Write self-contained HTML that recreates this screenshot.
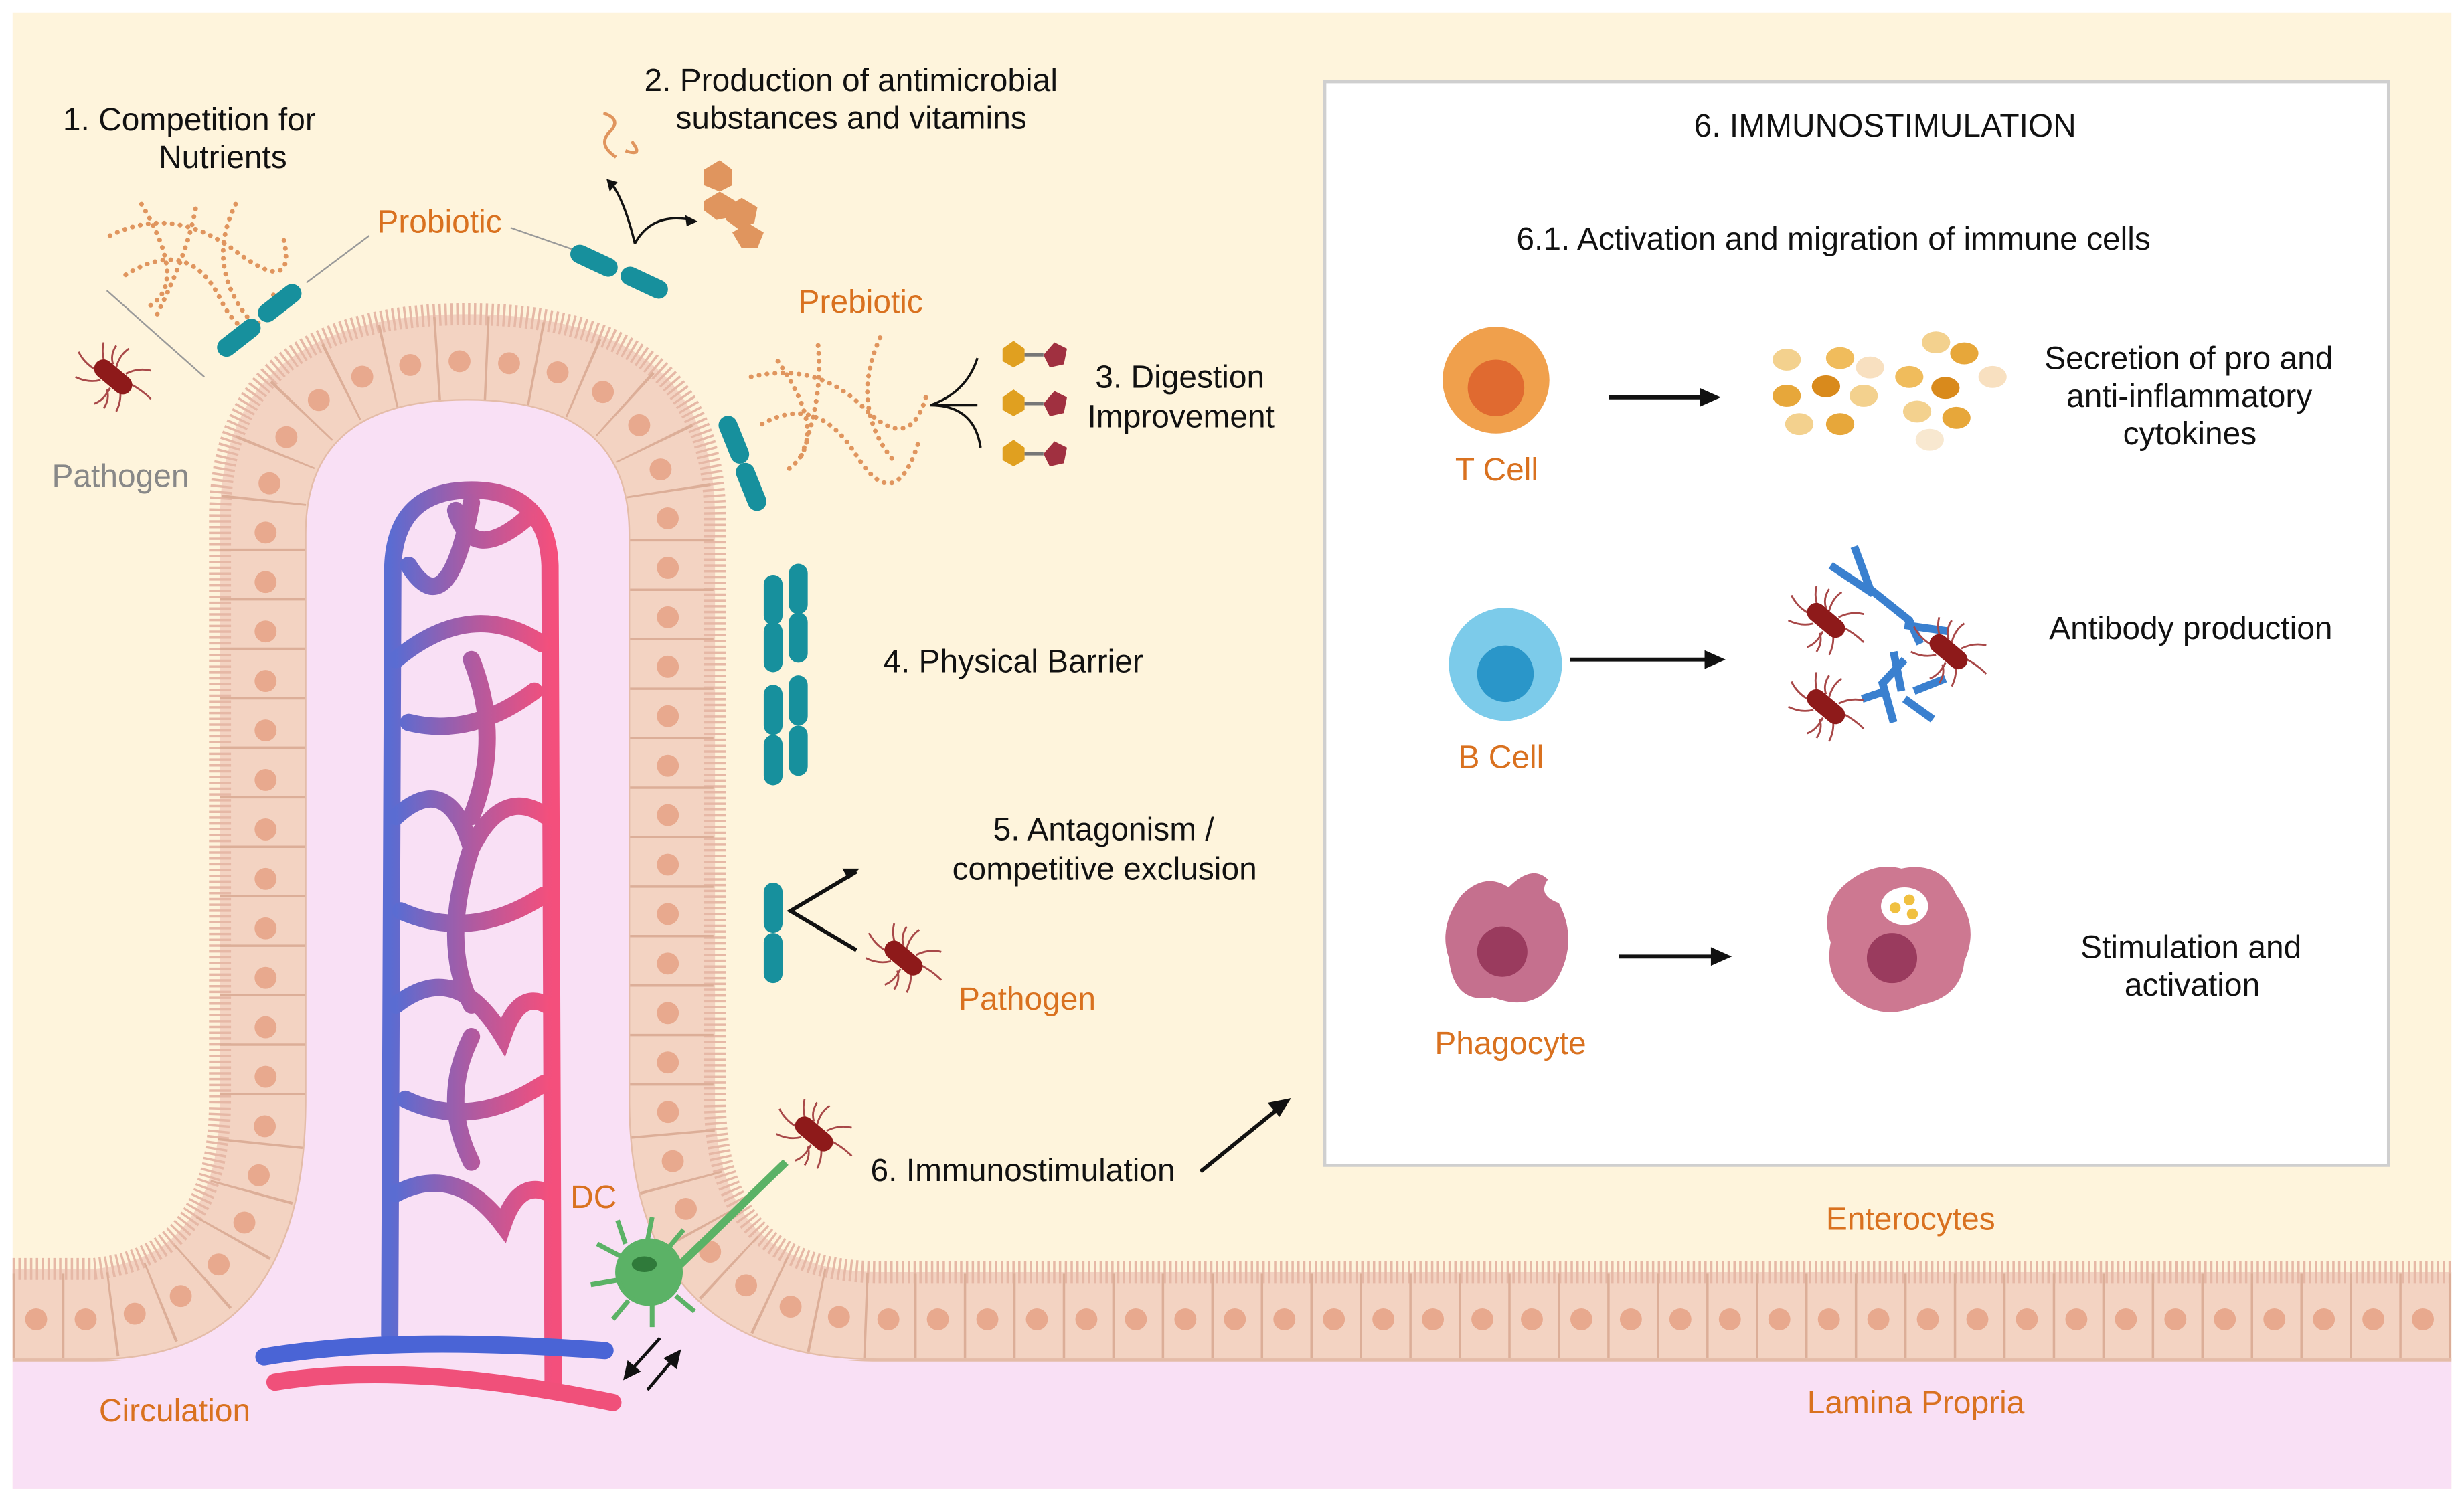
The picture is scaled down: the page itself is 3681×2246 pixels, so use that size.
<!DOCTYPE html>
<html><head><meta charset="utf-8"><style>
html,body{margin:0;padding:0;background:#fff;}
svg{display:block;}
text{font-family:"Liberation Sans",Arial,sans-serif;font-size:20.4px;fill:#111;}
.o{fill:#d9711f;}
.g{fill:#888;}
</style></head><body>
<svg width="3681" height="2246" viewBox="0 0 1568 957" preserveAspectRatio="none" xmlns="http://www.w3.org/2000/svg">
<defs>
<linearGradient id="vg" x1="0" x2="1" y1="0" y2="0">
<stop offset="0" stop-color="#5a6cd2"/><stop offset="0.5" stop-color="#b05aa0"/><stop offset="1" stop-color="#f44f7c"/>
</linearGradient>
<g id="pat">
<g stroke="#a84848" stroke-width="1.2" fill="none">
<path d="M-4,-6 q-4,-8 -2,-16"/><path d="M2,-6 q2,-8 8,-12"/><path d="M8,-2 q8,-4 16,-2"/><path d="M10,4 q8,4 14,10"/>
<path d="M4,6 q2,8 -2,16"/><path d="M-2,7 q-4,8 -10,10"/><path d="M-8,2 q-8,2 -16,-2"/><path d="M-10,-4 q-8,-4 -12,-12"/>
<path d="M0,-8 q-2,-6 2,-12"/><path d="M-4,8 q2,6 -2,12"/>
</g>
<rect x="-14" y="-6" width="28" height="12" rx="6" fill="#8e1a1a" transform="rotate(40)"/>
</g>
<g id="rod"><rect x="-16" y="-6" width="32" height="12" rx="6" fill="#17909d"/></g>
</defs>
<rect width="1568" height="957" fill="#fff"/>
<rect x="8" y="8" width="1552" height="940" fill="#fef4dc"/>
<rect x="8" y="862" width="1552" height="86" fill="#f9e0f5"/>
<path d="M8,808 L60,808 Q140,800 140,700 L140,330 Q140,200 297,200 Q455,200 455,330 L455,700 Q455,810 560,810 L1560,810 L1560,866 L560,866 Q400,866 400,700 L400,340 Q400,255 297,255 Q195,255 195,340 L195,700 Q195,866 60,866 L8,866 Z" fill="#f3d3c2"/>
<path d="M8,808 L60,808 Q140,800 140,700 L140,330 Q140,200 297,200 Q455,200 455,330 L455,700 Q455,810 560,810 L1560,810" fill="none" stroke="#e6b8a6" stroke-width="14" stroke-dasharray="1.5 2.2"/>
<path d="M8,838 L60,838 Q167,832 167,700 L167,335 Q167,228 297,228 Q427,228 427,335 L427,700 Q427,838 560,838 L1560,838" fill="none" stroke="#dcae98" stroke-width="54" stroke-dasharray="1.5 30"/>
<path d="M8,840 L60,840 Q169,834 169,700 L169,335 Q169,230 297,230 Q425,230 425,335 L425,700 Q425,840 560,840 L1560,840" fill="none" stroke="#e8a98e" stroke-width="14" stroke-linecap="round" stroke-dasharray="0 31.5" stroke-dashoffset="-15"/>
<path d="M8,866 L60,866 Q195,866 195,700 L195,340 Q195,255 297,255 Q400,255 400,340 L400,700 Q400,866 560,866 L1560,866" fill="none" stroke="#e4bca8" stroke-width="2"/>
<path d="M60,866 Q195,866 195,700 L195,340 Q195,255 297,255 Q400,255 400,340 L400,700 Q400,866 560,866 Z" fill="#f9e0f5"/>
<g fill="none" stroke="url(#vg)" stroke-width="11" stroke-linecap="round">
<path d="M248,850 L250,360 Q252,312 300,312 Q348,312 350,360 L352,885"/>
<path d="M260,360 Q285,400 300,320 M290,325 Q300,360 335,330 M252,420 Q300,380 345,410 M260,460 Q300,470 340,440 M252,520 Q285,490 300,540 Q320,500 348,520 M255,580 Q300,600 346,570 M252,640 Q290,610 320,660 Q330,630 348,640 M258,700 Q300,720 346,690 M252,760 Q290,740 320,780 Q330,750 350,760 M300,540 Q280,600 300,640 M300,420 Q320,470 300,520 M300,660 Q280,700 300,740"/>
</g>
<g fill="none" stroke-width="11" stroke-linecap="round">
<path d="M168,864 Q250,850 385,860" stroke="#4a64d6"/>
<path d="M175,880 Q260,866 390,893" stroke="#f0507a"/>
</g>
<rect x="843" y="52" width="677" height="690" fill="#fff" stroke="#cfcfcf" stroke-width="2"/>
<text x="1078" y="87">6. IMMUNOSTIMULATION</text>
<text x="965" y="159">6.1. Activation and migration of immune cells</text>
<circle cx="952" cy="242" r="34" fill="#f0a04c"/><circle cx="952" cy="247" r="18" fill="#e06a30"/>
<text x="926" y="306" class="o">T Cell</text>
<g stroke="#111" stroke-width="2.5" fill="#111">
<line x1="1024" y1="253" x2="1085" y2="253"/><path d="M1092,253 l-9,-4 v8z"/>
<line x1="999" y1="420" x2="1088" y2="420"/><path d="M1095,420 l-9,-4 v8z"/>
<line x1="1030" y1="609" x2="1092" y2="609"/><path d="M1099,609 l-9,-4 v8z"/>
<line x1="764" y1="746" x2="812" y2="707"/><path d="M819,701 l-10,2 l5,6z"/>
</g>
<g fill="#f0bc5c">
<ellipse cx="1137" cy="229" rx="9" ry="7" fill="#f3d18e"/><ellipse cx="1171" cy="228" rx="9" ry="7"/><ellipse cx="1137" cy="252" rx="9" ry="7" fill="#e7a73a"/><ellipse cx="1162" cy="246" rx="9" ry="7" fill="#d98a1c"/><ellipse cx="1190" cy="234" rx="9" ry="7" fill="#f8e0c0"/><ellipse cx="1186" cy="252" rx="9" ry="7" fill="#f3d18e"/><ellipse cx="1145" cy="270" rx="9" ry="7" fill="#f3d18e"/><ellipse cx="1171" cy="270" rx="9" ry="7" fill="#e7a73a"/><ellipse cx="1215" cy="240" rx="9" ry="7"/><ellipse cx="1232" cy="218" rx="9" ry="7" fill="#f3d18e"/><ellipse cx="1250" cy="225" rx="9" ry="7" fill="#e7a73a"/><ellipse cx="1238" cy="247" rx="9" ry="7" fill="#d98a1c"/><ellipse cx="1268" cy="240" rx="9" ry="7" fill="#f8e0c0"/><ellipse cx="1220" cy="262" rx="9" ry="7" fill="#f3d18e"/><ellipse cx="1245" cy="266" rx="9" ry="7" fill="#e7a73a"/><ellipse cx="1228" cy="280" rx="9" ry="7" fill="#f8e8d0"/>
</g>
<text x="1301" y="235">Secretion of pro and</text>
<text x="1315" y="259">anti-inflammatory</text>
<text x="1351" y="283">cytokines</text>
<circle cx="958" cy="423" r="36" fill="#7ccbea"/><circle cx="958" cy="429" r="18" fill="#2a96c9"/>
<text x="928" y="489" class="o">B Cell</text>
<g stroke="#3a80cf" stroke-width="5" fill="none">
<path d="M1180,348 L1190,375 L1215,395 L1222,410 M1165,360 L1192,378 M1212,398 L1240,402 M1205,415 L1210,440"/>
<path d="M1205,460 L1198,435 L1212,420 M1185,445 L1200,440 M1212,445 L1230,458 M1218,440 L1238,432"/>
</g>
<use href="#pat" x="1162" y="395"/><use href="#pat" x="1240" y="415"/><use href="#pat" x="1162" y="450"/>
<text x="1304" y="407">Antibody production</text>
<path d="M930,570 Q945,555 960,565 Q975,550 985,560 Q978,570 992,575 Q1005,600 990,625 Q975,645 950,635 Q925,640 922,610 Q915,590 930,570Z" fill="#c5708e"/>
<circle cx="956" cy="606" r="16" fill="#9a3b5e"/>
<text x="913" y="671" class="o">Phagocyte</text>
<path d="M1172,565 Q1190,548 1210,553 Q1235,548 1245,570 Q1260,590 1250,612 Q1248,635 1222,640 Q1200,650 1182,638 Q1160,625 1165,600 Q1158,580 1172,565Z" fill="#cd7891"/>
<circle cx="1204" cy="610" r="16" fill="#9a3b5e"/>
<ellipse cx="1212" cy="577" rx="15" ry="12" fill="#fff"/>
<circle cx="1206" cy="578" r="3.5" fill="#f0c040"/><circle cx="1215" cy="573" r="3.5" fill="#f0c040"/><circle cx="1217" cy="582" r="3.5" fill="#f0c040"/>
<text x="1324" y="610">Stimulation and</text>
<text x="1352" y="634">activation</text>
<text x="40" y="83">1.   Competition for</text>
<text x="101" y="107">Nutrients</text>
<text x="410" y="58">2. Production of antimicrobial</text>
<text x="430" y="82">substances and vitamins</text>
<text x="240" y="148" class="o">Probiotic</text>
<text x="508" y="199" class="o">Prebiotic</text>
<text x="33" y="310" class="g">Pathogen</text>
<text x="697" y="247">3. Digestion</text>
<text x="692" y="272">Improvement</text>
<text x="562" y="428">4. Physical Barrier</text>
<text x="632" y="535">5. Antagonism /</text>
<text x="606" y="560">competitive exclusion</text>
<text x="610" y="643" class="o">Pathogen</text>
<text x="554" y="752">6. Immunostimulation</text>
<text x="363" y="769" class="o">DC</text>
<text x="63" y="905" class="o">Circulation</text>
<text x="1162" y="783" class="o">Enterocytes</text>
<text x="1150" y="900" class="o">Lamina Propria</text>
<g fill="none" stroke="#e0955e" stroke-width="3" stroke-dasharray="0.1 5" stroke-linecap="round">
<path d="M70,150 Q110,130 150,160 T180,150 M80,175 Q120,150 140,190 T175,185 M100,200 Q120,160 125,130 M150,130 Q130,170 160,205 M90,130 Q120,180 95,195"/>
<path d="M478,240 Q520,230 550,260 T590,250 M485,270 Q520,250 545,290 T585,280 M510,290 Q525,250 520,215 M560,215 Q540,260 570,295 M495,230 Q530,280 500,300"/>
</g>
<line x1="68" y1="185" x2="130" y2="240" stroke="#999" stroke-width="1"/>
<line x1="195" y1="180" x2="235" y2="150" stroke="#999" stroke-width="1"/>
<line x1="325" y1="145" x2="368" y2="160" stroke="#999" stroke-width="1"/>
<use href="#pat" x="72" y="240"/>
<use href="#rod" transform="translate(152,215) rotate(-38)"/>
<use href="#rod" transform="translate(178,193) rotate(-38)"/>
<use href="#rod" transform="translate(378,166) rotate(25)"/>
<use href="#rod" transform="translate(410,180) rotate(25)"/>
<g fill="#e0955e"><polygon points="448,108 458,102 466,108 466,118 458,122 448,118"/><polygon points="448,128 458,122 468,128 466,138 456,140 448,134"/><polygon points="462,132 472,126 482,132 480,142 470,146 462,140"/><polygon points="466,148 476,142 486,148 482,158 472,158"/></g>
<path d="M392,100 Q380,92 388,84 Q396,76 384,72 M398,96 Q410,100 402,90" fill="none" stroke="#e0955e" stroke-width="2"/>
<path d="M404,155 Q398,130 390,118 M404,155 Q415,135 440,140" fill="none" stroke="#111" stroke-width="1.5"/>
<path d="M386,114 l2,8 l5,-6z M444,141 l-8,-4 l1,7z" fill="#111"/>
<path d="M592,258 Q615,250 622,228 M592,258 Q620,258 624,285 M592,258 h30" fill="none" stroke="#111" stroke-width="1.5"/>
<g><polygon points="638,222 645,217 652,222 652,230 645,234 638,230" fill="#e0a020"/><line x1="652" y1="226" x2="664" y2="226" stroke="#777" stroke-width="2"/><polygon points="664,226 671,218 679,222 677,232 668,234" fill="#a03040"/>
<polygon points="638,253 645,248 652,253 652,261 645,265 638,261" fill="#e0a020"/><line x1="652" y1="257" x2="664" y2="257" stroke="#777" stroke-width="2"/><polygon points="664,257 671,249 679,253 677,263 668,265" fill="#a03040"/>
<polygon points="638,285 645,280 652,285 652,293 645,297 638,293" fill="#e0a020"/><line x1="652" y1="289" x2="664" y2="289" stroke="#777" stroke-width="2"/><polygon points="664,289 671,281 679,285 677,295 668,297" fill="#a03040"/></g>
<use href="#rod" transform="translate(467,280) rotate(68)"/>
<use href="#rod" transform="translate(478,310) rotate(68)"/>
<use href="#rod" transform="translate(492,382) rotate(90)"/><use href="#rod" transform="translate(492,412) rotate(90)"/>
<use href="#rod" transform="translate(508,375) rotate(90)"/><use href="#rod" transform="translate(508,406) rotate(90)"/>
<use href="#rod" transform="translate(492,452) rotate(90)"/><use href="#rod" transform="translate(492,484) rotate(90)"/>
<use href="#rod" transform="translate(508,446) rotate(90)"/><use href="#rod" transform="translate(508,478) rotate(90)"/>
<use href="#rod" transform="translate(492,578) rotate(90)"/><use href="#rod" transform="translate(492,610) rotate(90)"/>
<path d="M545,555 L503,580 L545,605" fill="none" stroke="#111" stroke-width="2.5"/>
<path d="M547,553 l-11,0 l4,7z" fill="#111"/>
<use href="#pat" x="575" y="610"/>
<use href="#pat" x="518" y="722"/>
<path d="M430,808 L500,740" stroke="#5bb266" stroke-width="5"/>
<g fill="#5bb266" stroke="#5bb266" stroke-width="3">
<circle cx="413" cy="810" r="20"/>
<path d="M395,800 l-15,-8 M393,815 l-17,3 M400,828 l-10,12 M415,830 l0,15 M430,825 l12,10 M398,792 l-5,-15 M412,790 l3,-15 M425,795 l10,-12" fill="none"/>
</g>
<ellipse cx="410" cy="805" rx="8" ry="5" fill="#2f7a3a"/>
<g stroke="#111" stroke-width="2" fill="#111">
<line x1="420" y1="852" x2="402" y2="872"/><path d="M398,877 l2,-9 l6,5z"/>
<line x1="412" y1="885" x2="428" y2="866"/><path d="M432,861 l-2,9 l-6,-5z"/>
</g>
</svg>
</body></html>
